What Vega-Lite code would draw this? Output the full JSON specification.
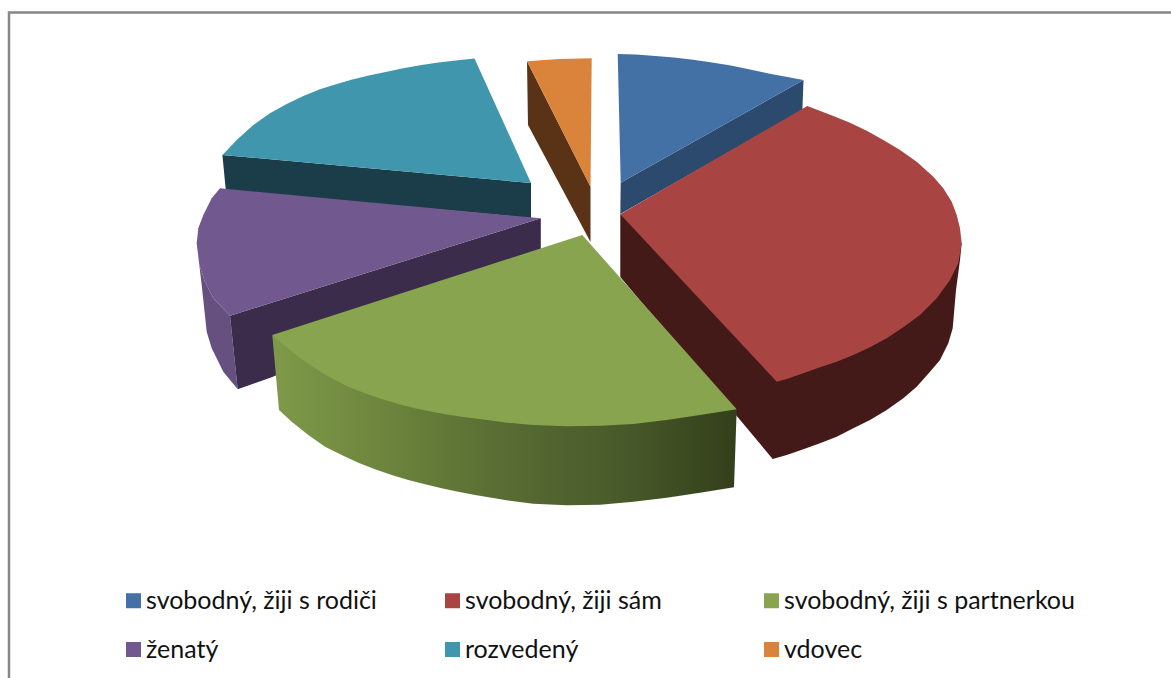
{"$schema":"https://vega.github.io/schema/vega-lite/v6.json","autosize":{"type":"none"},"width":1171,"height":678,"padding":0,"background":"#ffffff","view":{"stroke":null},
"datasets":{"outline":[
{"part":"frame","i":0,"x":9,"y":678},{"part":"frame","i":1,"x":9,"y":12.5},{"part":"frame","i":2,"x":1171,"y":12.5},
{"part":"tealSide","i":0,"x":222.4,"y":155},{"part":"tealSide","i":1,"x":531,"y":183},{"part":"tealSide","i":2,"x":531,"y":218},{"part":"tealSide","i":3,"x":225.8,"y":190},
{"part":"tealTop","slice":"rozvedený","i":0,"x":474.5,"y":58.5},{"part":"tealTop","slice":"rozvedený","i":1,"x":531,"y":183},{"part":"tealTop","slice":"rozvedený","i":2,"x":222.5,"y":155},{"part":"tealTop","slice":"rozvedený","i":3,"x":236.7,"y":140},{"part":"tealTop","slice":"rozvedený","i":4,"x":253.3,"y":125},{"part":"tealTop","slice":"rozvedený","i":5,"x":270,"y":113.3},{"part":"tealTop","slice":"rozvedený","i":6,"x":286.7,"y":104},{"part":"tealTop","slice":"rozvedený","i":7,"x":303.3,"y":96},{"part":"tealTop","slice":"rozvedený","i":8,"x":320,"y":89.3},{"part":"tealTop","slice":"rozvedený","i":9,"x":336.7,"y":84},{"part":"tealTop","slice":"rozvedený","i":10,"x":353.3,"y":79.3},{"part":"tealTop","slice":"rozvedený","i":11,"x":370,"y":75.3},{"part":"tealTop","slice":"rozvedený","i":12,"x":386.7,"y":71.7},{"part":"tealTop","slice":"rozvedený","i":13,"x":403.3,"y":68.3},{"part":"tealTop","slice":"rozvedený","i":14,"x":420,"y":65.3},{"part":"tealTop","slice":"rozvedený","i":15,"x":436.7,"y":62.7},{"part":"tealTop","slice":"rozvedený","i":16,"x":453.3,"y":60.7},
{"part":"orangeSide","i":0,"x":527,"y":61.3},{"part":"orangeSide","i":1,"x":590.5,"y":186.7},{"part":"orangeSide","i":2,"x":590.5,"y":242},{"part":"orangeSide","i":3,"x":528,"y":125},
{"part":"orangeTop","slice":"vdovec","i":0,"x":527,"y":61.3},{"part":"orangeTop","slice":"vdovec","i":1,"x":559,"y":59},{"part":"orangeTop","slice":"vdovec","i":2,"x":591.7,"y":58.3},{"part":"orangeTop","slice":"vdovec","i":3,"x":590.5,"y":186.7},
{"part":"blueSide","i":0,"x":803.5,"y":80},{"part":"blueSide","i":1,"x":620.7,"y":182.7},{"part":"blueSide","i":2,"x":620.3,"y":214},{"part":"blueSide","i":3,"x":802.4,"y":110},
{"part":"blueTop","slice":"svobodný, žiji s rodiči","i":0,"x":617.7,"y":54},{"part":"blueTop","slice":"svobodný, žiji s rodiči","i":1,"x":636,"y":54.6},{"part":"blueTop","slice":"svobodný, žiji s rodiči","i":2,"x":655.4,"y":56},{"part":"blueTop","slice":"svobodný, žiji s rodiči","i":3,"x":674,"y":57.5},{"part":"blueTop","slice":"svobodný, žiji s rodiči","i":4,"x":693,"y":59.8},{"part":"blueTop","slice":"svobodný, žiji s rodiči","i":5,"x":712,"y":62.5},{"part":"blueTop","slice":"svobodný, žiji s rodiči","i":6,"x":730.8,"y":65.5},{"part":"blueTop","slice":"svobodný, žiji s rodiči","i":7,"x":750,"y":69.5},{"part":"blueTop","slice":"svobodný, žiji s rodiči","i":8,"x":768.5,"y":73.5},{"part":"blueTop","slice":"svobodný, žiji s rodiči","i":9,"x":803.5,"y":80},{"part":"blueTop","slice":"svobodný, žiji s rodiči","i":10,"x":620.7,"y":182.7},
{"part":"purpleOuter","i":0,"x":196.7,"y":243.3},{"part":"purpleOuter","i":1,"x":199.3,"y":265},{"part":"purpleOuter","i":2,"x":205,"y":281.7},{"part":"purpleOuter","i":3,"x":213.3,"y":298.3},{"part":"purpleOuter","i":4,"x":230,"y":315.7},{"part":"purpleOuter","i":5,"x":237.7,"y":389.3},{"part":"purpleOuter","i":6,"x":223.3,"y":371.7},{"part":"purpleOuter","i":7,"x":211.7,"y":348.3},{"part":"purpleOuter","i":8,"x":206.7,"y":331.7},{"part":"purpleOuter","i":9,"x":201.7,"y":285},{"part":"purpleOuter","i":10,"x":197.3,"y":248.3},
{"part":"purpleInner","i":0,"x":230,"y":315.7},{"part":"purpleInner","i":1,"x":540.8,"y":218.3},{"part":"purpleInner","i":2,"x":540.8,"y":262},{"part":"purpleInner","i":3,"x":272.3,"y":377},{"part":"purpleInner","i":4,"x":237.7,"y":389.3},
{"part":"purpleTop","slice":"ženatý","i":0,"x":220,"y":188.3},{"part":"purpleTop","slice":"ženatý","i":1,"x":540.8,"y":218.3},{"part":"purpleTop","slice":"ženatý","i":2,"x":230,"y":315.7},{"part":"purpleTop","slice":"ženatý","i":3,"x":213.3,"y":298.3},{"part":"purpleTop","slice":"ženatý","i":4,"x":205,"y":281.7},{"part":"purpleTop","slice":"ženatý","i":5,"x":199.3,"y":265},{"part":"purpleTop","slice":"ženatý","i":6,"x":196.7,"y":243.3},{"part":"purpleTop","slice":"ženatý","i":7,"x":198.3,"y":228.3},{"part":"purpleTop","slice":"ženatý","i":8,"x":203.3,"y":215},{"part":"purpleTop","slice":"ženatý","i":9,"x":211.7,"y":198.3},
{"part":"redSide","i":0,"x":620.3,"y":214.3},{"part":"redSide","i":1,"x":620.3,"y":277},{"part":"redSide","i":2,"x":772.7,"y":459},{"part":"redSide","i":3,"x":786.7,"y":455},{"part":"redSide","i":4,"x":803.3,"y":449.3},{"part":"redSide","i":5,"x":820,"y":443.3},{"part":"redSide","i":6,"x":836.7,"y":436.7},{"part":"redSide","i":7,"x":853.3,"y":428.3},{"part":"redSide","i":8,"x":870,"y":420},{"part":"redSide","i":9,"x":886.7,"y":410},{"part":"redSide","i":10,"x":903.3,"y":398.3},{"part":"redSide","i":11,"x":916.7,"y":386.7},{"part":"redSide","i":12,"x":930,"y":371.7},{"part":"redSide","i":13,"x":940,"y":360},{"part":"redSide","i":14,"x":948.3,"y":343.3},{"part":"redSide","i":15,"x":952.7,"y":328.3},{"part":"redSide","i":16,"x":956,"y":290},{"part":"redSide","i":17,"x":960,"y":260},{"part":"redSide","i":18,"x":961.7,"y":243},
{"part":"redTop","slice":"svobodný, žiji sám","i":0,"x":620.3,"y":214.3},{"part":"redTop","slice":"svobodný, žiji sám","i":1,"x":807.3,"y":106},{"part":"redTop","slice":"svobodný, žiji sám","i":2,"x":833.3,"y":116},{"part":"redTop","slice":"svobodný, žiji sám","i":3,"x":850,"y":122.7},{"part":"redTop","slice":"svobodný, žiji sám","i":4,"x":866.7,"y":130.7},{"part":"redTop","slice":"svobodný, žiji sám","i":5,"x":883.3,"y":140},{"part":"redTop","slice":"svobodný, žiji sám","i":6,"x":900,"y":150},{"part":"redTop","slice":"svobodný, žiji sám","i":7,"x":916.7,"y":161.7},{"part":"redTop","slice":"svobodný, žiji sám","i":8,"x":933.3,"y":176.7},{"part":"redTop","slice":"svobodný, žiji sám","i":9,"x":943.3,"y":188.3},{"part":"redTop","slice":"svobodný, žiji sám","i":10,"x":951.7,"y":201.7},{"part":"redTop","slice":"svobodný, žiji sám","i":11,"x":956.7,"y":215},{"part":"redTop","slice":"svobodný, žiji sám","i":12,"x":960,"y":228.3},{"part":"redTop","slice":"svobodný, žiji sám","i":13,"x":961.7,"y":243.3},{"part":"redTop","slice":"svobodný, žiji sám","i":14,"x":958.3,"y":263.3},{"part":"redTop","slice":"svobodný, žiji sám","i":15,"x":950,"y":280},{"part":"redTop","slice":"svobodný, žiji sám","i":16,"x":936.7,"y":298.3},{"part":"redTop","slice":"svobodný, žiji sám","i":17,"x":920,"y":315},{"part":"redTop","slice":"svobodný, žiji sám","i":18,"x":903.3,"y":327.3},{"part":"redTop","slice":"svobodný, žiji sám","i":19,"x":886.7,"y":338.3},{"part":"redTop","slice":"svobodný, žiji sám","i":20,"x":870,"y":347.3},{"part":"redTop","slice":"svobodný, žiji sám","i":21,"x":853.3,"y":355},{"part":"redTop","slice":"svobodný, žiji sám","i":22,"x":836.7,"y":361.7},{"part":"redTop","slice":"svobodný, žiji sám","i":23,"x":820,"y":367.3},{"part":"redTop","slice":"svobodný, žiji sám","i":24,"x":803.3,"y":373.3},{"part":"redTop","slice":"svobodný, žiji sám","i":25,"x":786.7,"y":379},{"part":"redTop","slice":"svobodný, žiji sám","i":26,"x":776.7,"y":381.7},
{"part":"greenSide","i":0,"x":272.3,"y":335},{"part":"greenSide","i":1,"x":279,"y":410},{"part":"greenSide","i":2,"x":291.7,"y":421.7},{"part":"greenSide","i":3,"x":308.3,"y":435},{"part":"greenSide","i":4,"x":325,"y":446.7},{"part":"greenSide","i":5,"x":341.7,"y":455},{"part":"greenSide","i":6,"x":358.3,"y":462.7},{"part":"greenSide","i":7,"x":375,"y":469.3},{"part":"greenSide","i":8,"x":391.7,"y":475},{"part":"greenSide","i":9,"x":408.3,"y":480},{"part":"greenSide","i":10,"x":425,"y":484.3},{"part":"greenSide","i":11,"x":441.7,"y":488.3},{"part":"greenSide","i":12,"x":458.3,"y":491.7},{"part":"greenSide","i":13,"x":475,"y":495},{"part":"greenSide","i":14,"x":491.7,"y":497.7},{"part":"greenSide","i":15,"x":505,"y":500},{"part":"greenSide","i":16,"x":533.3,"y":503.7},{"part":"greenSide","i":17,"x":566.7,"y":505.3},{"part":"greenSide","i":18,"x":600,"y":504.7},{"part":"greenSide","i":19,"x":633.3,"y":501.7},{"part":"greenSide","i":20,"x":666.7,"y":497.7},{"part":"greenSide","i":21,"x":700,"y":492.7},{"part":"greenSide","i":22,"x":734,"y":487.3},{"part":"greenSide","i":23,"x":736.7,"y":409.3},
{"part":"greenTop","slice":"svobodný, žiji s partnerkou","i":0,"x":582.3,"y":235},{"part":"greenTop","slice":"svobodný, žiji s partnerkou","i":1,"x":736.7,"y":409.3},{"part":"greenTop","slice":"svobodný, žiji s partnerkou","i":2,"x":700,"y":415},{"part":"greenTop","slice":"svobodný, žiji s partnerkou","i":3,"x":666.7,"y":420},{"part":"greenTop","slice":"svobodný, žiji s partnerkou","i":4,"x":633.3,"y":424},{"part":"greenTop","slice":"svobodný, žiji s partnerkou","i":5,"x":600,"y":425.7},{"part":"greenTop","slice":"svobodný, žiji s partnerkou","i":6,"x":566.7,"y":426.3},{"part":"greenTop","slice":"svobodný, žiji s partnerkou","i":7,"x":533.3,"y":425},{"part":"greenTop","slice":"svobodný, žiji s partnerkou","i":8,"x":505,"y":422.5},{"part":"greenTop","slice":"svobodný, žiji s partnerkou","i":9,"x":481.7,"y":419.3},{"part":"greenTop","slice":"svobodný, žiji s partnerkou","i":10,"x":465,"y":417.3},{"part":"greenTop","slice":"svobodný, žiji s partnerkou","i":11,"x":448.3,"y":414.7},{"part":"greenTop","slice":"svobodný, žiji s partnerkou","i":12,"x":431.7,"y":411.7},{"part":"greenTop","slice":"svobodný, žiji s partnerkou","i":13,"x":415,"y":408.3},{"part":"greenTop","slice":"svobodný, žiji s partnerkou","i":14,"x":398.3,"y":404},{"part":"greenTop","slice":"svobodný, žiji s partnerkou","i":15,"x":381.7,"y":399},{"part":"greenTop","slice":"svobodný, žiji s partnerkou","i":16,"x":365,"y":393.3},{"part":"greenTop","slice":"svobodný, žiji s partnerkou","i":17,"x":348.3,"y":386.7},{"part":"greenTop","slice":"svobodný, žiji s partnerkou","i":18,"x":331.7,"y":378.3},{"part":"greenTop","slice":"svobodný, žiji s partnerkou","i":19,"x":315,"y":368.3},{"part":"greenTop","slice":"svobodný, žiji s partnerkou","i":20,"x":298.3,"y":356.7},{"part":"greenTop","slice":"svobodný, žiji s partnerkou","i":21,"x":281.7,"y":343.3},{"part":"greenTop","slice":"svobodný, žiji s partnerkou","i":22,"x":272.3,"y":335}
]},
"data":{"name":"outline"},
"encoding":{
"x":{"field":"x","type":"quantitative","axis":null,"scale":{"domain":[0,1171],"nice":false,"zero":false}},
"y":{"field":"y","type":"quantitative","axis":null,"scale":{"domain":[678,0],"nice":false,"zero":false}},
"order":{"field":"i","type":"quantitative"}},
"layer":[
{"transform":[{"filter":"datum.part==='frame'"}],"mark":{"type":"line","stroke":"#868686","strokeWidth":2.5}},
{"transform":[{"filter":"datum.part==='tealSide'"}],"mark":{"type":"line","fill":"#1b3c49","strokeWidth":0}},
{"transform":[{"filter":"datum.part==='tealTop'"}],"mark":{"type":"line","strokeWidth":0},"encoding":{"fill":{"field":"slice","type":"nominal","scale":{"domain":["svobodný, žiji s rodiči","svobodný, žiji sám","svobodný, žiji s partnerkou","ženatý","rozvedený","vdovec"],"range":["#4371a6","#a84442","#89a44e","#71588f","#4097ad","#d9833b"]},"legend":{"title":null,"orient":"none","legendX":121,"legendY":588,"padding":0,"direction":"horizontal","columns":3,"gridAlign":"all","columnPadding":3,"rowPadding":23,"symbolType":"square","symbolSize":225,"symbolStrokeWidth":0,"labelFont":"Lato","labelFontSize":25,"labelColor":"#111111","labelOffset":0,"labelLimit":400}}}},
{"transform":[{"filter":"datum.part==='orangeSide'"}],"mark":{"type":"line","fill":"#5a3316","strokeWidth":0}},
{"transform":[{"filter":"datum.part==='orangeTop'"}],"mark":{"type":"line","strokeWidth":0},"encoding":{"fill":{"field":"slice","type":"nominal"}}},
{"transform":[{"filter":"datum.part==='blueSide'"}],"mark":{"type":"line","fill":"#2c4a6e","strokeWidth":0}},
{"transform":[{"filter":"datum.part==='blueTop'"}],"mark":{"type":"line","strokeWidth":0},"encoding":{"fill":{"field":"slice","type":"nominal"}}},
{"transform":[{"filter":"datum.part==='purpleOuter'"}],"mark":{"type":"line","fill":"#65507f","strokeWidth":0}},
{"transform":[{"filter":"datum.part==='purpleInner'"}],"mark":{"type":"line","fill":"#3b2c4b","strokeWidth":0}},
{"transform":[{"filter":"datum.part==='purpleTop'"}],"mark":{"type":"line","strokeWidth":0},"encoding":{"fill":{"field":"slice","type":"nominal"}}},
{"transform":[{"filter":"datum.part==='redSide'"}],"mark":{"type":"line","fill":"#431a18","strokeWidth":0}},
{"transform":[{"filter":"datum.part==='redTop'"}],"mark":{"type":"line","strokeWidth":0},"encoding":{"fill":{"field":"slice","type":"nominal"}}},
{"transform":[{"filter":"datum.part==='greenSide'"}],"mark":{"type":"line","strokeWidth":0,"fill":{"gradient":"linear","x1":0,"x2":1,"y1":0,"y2":0,"stops":[{"offset":0,"color":"#7f9a4a"},{"offset":0.25,"color":"#6c843c"},{"offset":0.5,"color":"#586c33"},{"offset":0.75,"color":"#485a2a"},{"offset":1,"color":"#333f1a"}]}}},
{"transform":[{"filter":"datum.part==='greenTop'"}],"mark":{"type":"line","strokeWidth":0},"encoding":{"fill":{"field":"slice","type":"nominal"}}}
]}
